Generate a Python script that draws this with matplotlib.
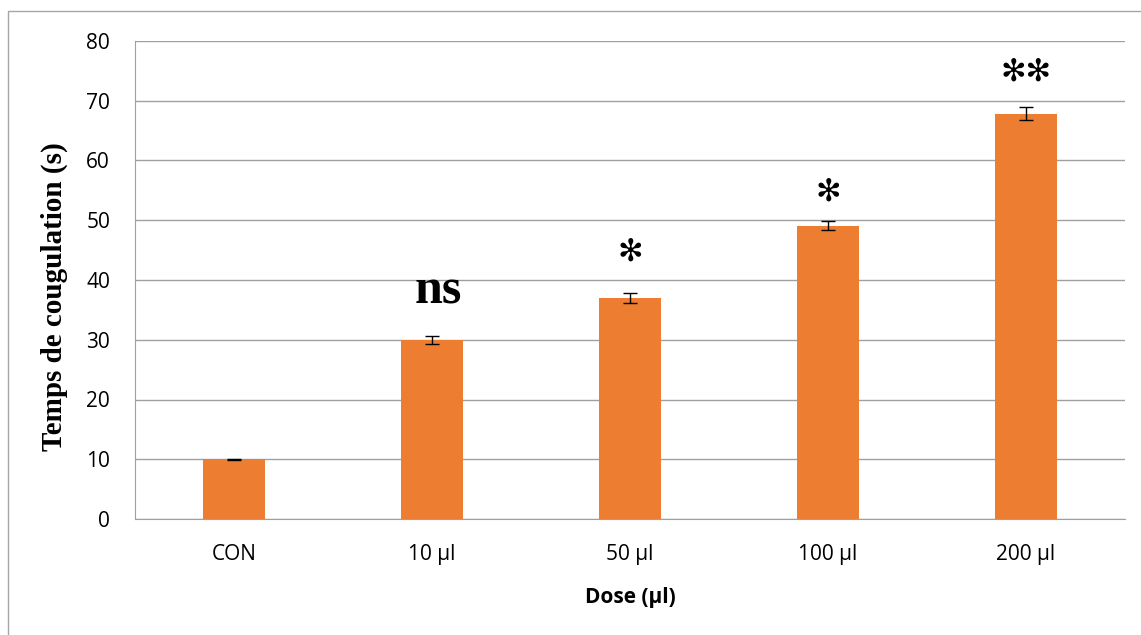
import matplotlib
matplotlib.use("Agg")
import matplotlib.pyplot as plt
from matplotlib.patches import Rectangle

categories = ["CON", "10 µl", "50 µl", "100 µl", "200 µl"]
values = [10.0, 30.0, 37.0, 49.1, 67.8]
errors = [0.1, 0.7, 0.85, 0.8, 1.1]
marks = ["", "ns", "✻", "✻", "✻✻"]
yticks = [0, 10, 20, 30, 40, 50, 60, 70, 80]

W, H = 1141, 635
fig = plt.figure(figsize=(W / 100, H / 100), dpi=100)
# outer frame
fig.patches.append(Rectangle((8 / W, -0.05), 1.2, 1 - 11 / H + 0.05, transform=fig.transFigure,
                             fill=False, edgecolor="#a6a6a6", linewidth=1.0))
left, right, top, bottom = 135, 1125, 41, 519
ax = fig.add_axes([left / W, 1 - bottom / H, (right - left) / W, (bottom - top) / H])

x = range(len(categories))
ax.bar(x, values, width=0.313, color="#ED7D31", zorder=2)
ax.errorbar(x, values, yerr=errors, fmt="none", ecolor="black", elinewidth=1.0,
            capsize=5, capthick=1.0, zorder=3)

ax.set_xlim(-0.5, len(categories) - 0.5)
ax.set_ylim(0, 80)
ax.set_yticks(yticks)
ax.set_xticks(list(x))
ax.set_xticklabels(categories)
ax.grid(axis="y", color="#a0a0a0", linewidth=1.0, zorder=0)
ax.set_axisbelow(True)
for s in ["top", "right"]:
    ax.spines[s].set_visible(False)
ax.spines["left"].set_color("#a0a0a0")
ax.spines["bottom"].set_color("#a0a0a0")
ax.tick_params(axis="both", length=0, labelsize=15)
ax.tick_params(axis="y", pad=18)
ax.tick_params(axis="x", pad=18)
for lab in ax.get_xticklabels() + ax.get_yticklabels():
    lab.set_fontfamily("Open Sans")

ax.set_xlabel("Dose (µl)", fontfamily="Open Sans", fontweight="bold", fontsize=15)
ax.xaxis.set_label_coords(0.5, -(597 - bottom) / (bottom - top))
ax.xaxis.label.set_va("center")
ax.set_ylabel("Temps de cougulation (s)", fontfamily="Liberation Serif", fontweight="bold",
              fontsize=21)
ax.yaxis.set_label_coords(-(left - 54) / (right - left), (519 - 297) / (bottom - top))
ax.yaxis.label.set_va("center")

offsets = [0, 7.3, 6.85, 4.8, 5.9]
for i, (m, v, e) in enumerate(zip(marks, values, errors)):
    if not m:
        continue
    if m == "ns":
        ax.text(i + 0.03, v + e + offsets[i], m, ha="center", va="center",
                fontfamily="Liberation Serif", fontweight="bold", fontsize=36)
    else:
        ax.text(i, v + e + offsets[i], m, ha="center", va="center",
                fontfamily="DejaVu Sans", fontsize=22)

fig.savefig("out.png", dpi=100)
